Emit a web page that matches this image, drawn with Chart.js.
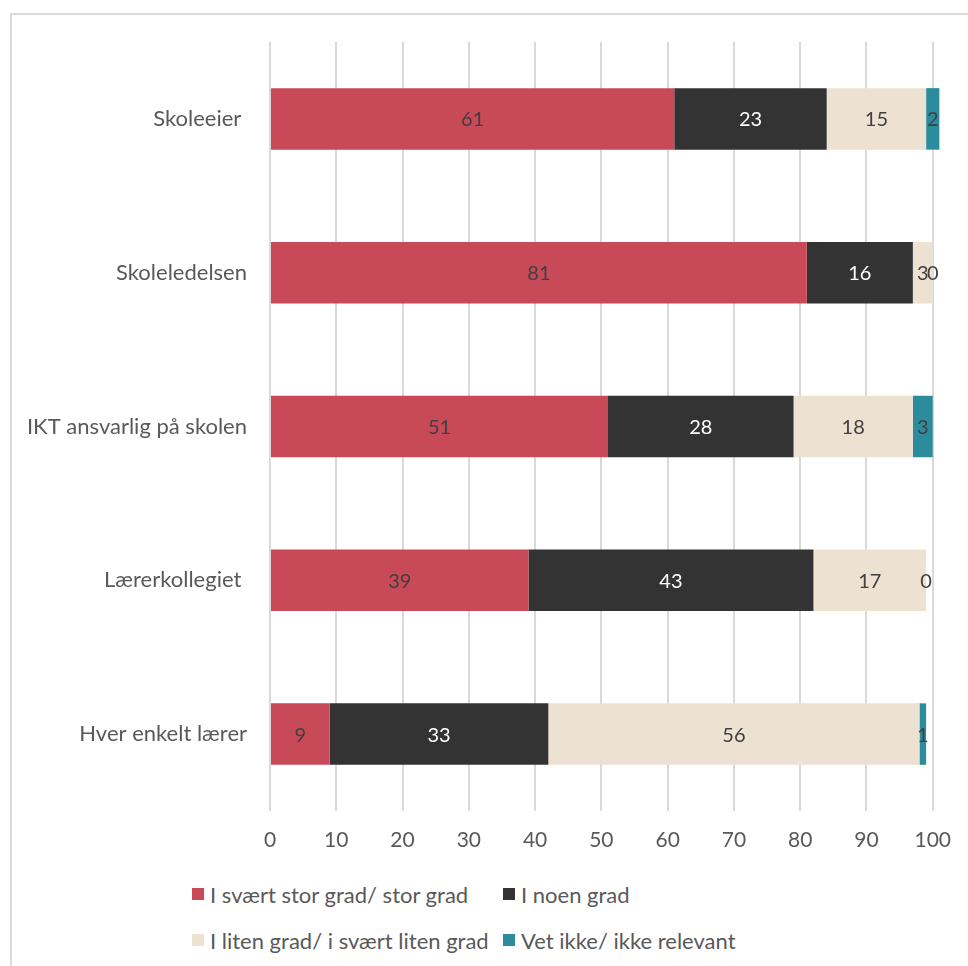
<!DOCTYPE html>
<html>
<head>
<meta charset="utf-8">
<script src="https://cdn.jsdelivr.net/npm/chart.js@4/dist/chart.umd.min.js"></script>
<style>
  html, body { margin: 0; padding: 0; background: #fff; }
  body { width: 968px; height: 966px; position: relative; overflow: hidden; font-family: Lato, "Open Sans", sans-serif; }
  #frame { position: absolute; left: 10px; top: 13px; width: 980px; height: 980px; border-top: 2px solid #d9d9d9; border-left: 2px solid #d9d9d9; box-sizing: border-box; }
  #wrap { position: absolute; left: 0; top: 0; width: 968px; height: 870px; }
  #legend { position: absolute; left: 0; top: 870px; width: 968px; }
  .li { position: absolute; display: flex; align-items: center; font-size: 22px; color: #595959; white-space: nowrap; }
  .sw { width: 12px; height: 12px; margin-right: 6px; }
</style>
</head>
<body>
<div id="frame"></div>
<div id="wrap"><canvas id="c"></canvas></div>
<div id="legend"></div>
<script>
const categories = ["Skoleeier ", "Skoleledelsen", "IKT ansvarlig på skolen", "Lærerkollegiet ", "Hver enkelt lærer"];
const seriesNames = ["I svært stor grad/ stor grad", "I noen grad", "I liten grad/ i svært liten grad", "Vet ikke/ ikke relevant"];
const storGrad = [61, 81, 51, 39, 9];
const noenGrad = [23, 16, 28, 43, 33];
const litenGrad = [15, 3, 18, 17, 56];
const vetIkke = [2, 0, 3, 0, 1];
const xTicks = [0, 10, 20, 30, 40, 50, 60, 70, 80, 90, 100];

const colors = ["#C84A59", "#333333", "#EDE1D2", "#2C8C9D"];
const labelColors = ["#404040", "#ffffff", "#404040", "#404040"];
const seriesValues = [storGrad, noenGrad, litenGrad, vetIkke];

const FONT = "Lato, 'Open Sans', sans-serif";

const valueLabels = {
  id: "valueLabels",
  afterDatasetsDraw(chart) {
    const ctx = chart.ctx;
    ctx.save();
    ctx.font = "20px " + FONT;
    ctx.textAlign = "center";
    ctx.textBaseline = "middle";
    chart.data.datasets.forEach((ds, i) => {
      const meta = chart.getDatasetMeta(i);
      meta.data.forEach((el, j) => {
        const cx = (el.x + el.base) / 2;
        ctx.fillStyle = labelColors[i];
        ctx.fillText(String(ds.data[j]), cx, el.y + 1);
      });
    });
    ctx.restore();
  }
};

const chart = new Chart(document.getElementById("c"), {
  type: "bar",
  data: {
    labels: categories,
    datasets: seriesNames.map((n, i) => ({
      label: n,
      data: seriesValues[i],
      backgroundColor: colors[i],
      borderWidth: 0,
      barPercentage: 0.4,
      categoryPercentage: 1.0,
      clip: false
    }))
  },
  options: {
    indexAxis: "y",
    responsive: true,
    maintainAspectRatio: false,
    animation: false,
    layout: { padding: { left: 0, right: 34, top: 42, bottom: 0 } },
    plugins: { legend: { display: false }, tooltip: { enabled: false } },
    scales: {
      x: {
        stacked: true,
        min: 0,
        max: 100,
        afterBuildTicks(scale) { scale.ticks = xTicks.map(v => ({ value: v })); },
        afterFit(scale) { scale.height = 59; },
        grid: { color: "#d9d9d9", lineWidth: 2, drawTicks: false },
        border: { display: false },
        ticks: { color: "#595959", font: { family: FONT, size: 21 }, padding: 17 }
      },
      y: {
        stacked: true,
        afterFit(scale) { scale.width = 270; },
        grid: { display: false, drawTicks: false },
        border: { display: false },
        ticks: { color: "#595959", font: { family: FONT, size: 22 }, padding: 23 }
      }
    }
  },
  plugins: [valueLabels]
});

// HTML legend built from datasets
const legend = document.getElementById("legend");
const pos = [[192, 24], [503, 24], [192, 70], [503, 70]];
chart.data.datasets.forEach((ds, i) => {
  const d = document.createElement("div");
  d.className = "li";
  d.style.left = pos[i][0] + "px";
  d.style.top = (pos[i][1] - 13) + "px";
  d.style.height = "26px";
  const s = document.createElement("span");
  s.className = "sw";
  s.style.background = ds.backgroundColor;
  const t = document.createElement("span");
  t.textContent = ds.label;
  d.appendChild(s); d.appendChild(t);
  legend.appendChild(d);
});
</script>
</body>
</html>
